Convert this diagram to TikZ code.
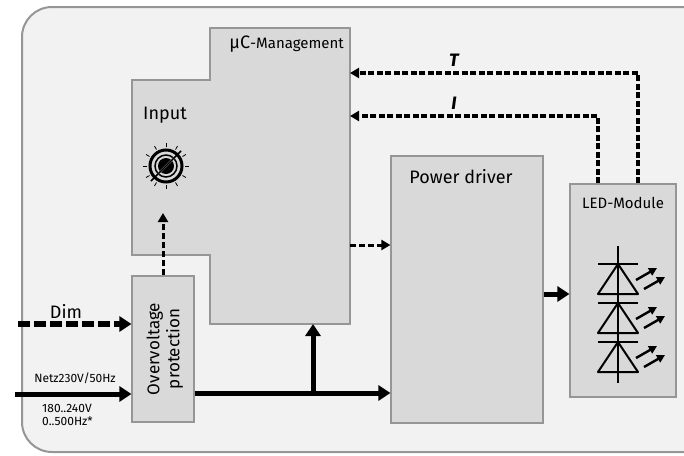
\documentclass[tikz,border=0pt]{standalone}
\usepackage{fontspec}
\setmainfont{Fira Sans}
\usetikzlibrary{arrows.meta}

\definecolor{bgcol}{RGB}{242,242,242}
\definecolor{boxcol}{RGB}{217,217,217}
\definecolor{edgecol}{RGB}{150,150,150}

\tikzset{
  block/.style={draw=edgecol,fill=boxcol,line width=1.2pt,inner sep=0pt},
  bigarrow/.style={line width=5pt,-{Triangle[length=12pt,width=15pt]}},
  dasharrow/.style={line width=5.5pt,dash pattern=on 12pt off 4pt,-{Triangle[length=12pt,width=15pt]}},
  fbarrow/.style={line width=3.2pt,dash pattern=on 6pt off 2.5pt,-{Triangle[length=9pt,width=10pt]}},
  smallarrow/.style={line width=3pt,dash pattern=on 6pt off 3pt,-{Triangle[length=9pt,width=10pt]}},
  lightarrow/.style={line width=2.4pt,-{Triangle[length=8pt,width=8pt]}}
}

\begin{document}
\begin{tikzpicture}[x=1pt,y=-1pt,font=\fontsize{18}{20}\selectfont]
\useasboundingbox (0,0) rectangle (684,455);

% outer frame
\begin{scope}
\clip (0,0) rectangle (684,455);
\draw[draw=edgecol,fill=bgcol,line width=2pt,rounded corners=30pt] (700,7) -- (22,7) -- (22,452) -- (700,452);
\end{scope}

% uC-Management
\draw[block] (210,28) -- (350,28) -- (350,324) -- (210,324) -- (210,255) -- (132,255) -- (132,80) -- (210,80) -- cycle;
\coordinate (uct) at (350,73);
\coordinate (uci) at (350,116);
\coordinate (ucr) at (350,245);
\coordinate (ucb) at (313,324);
\coordinate (ucin) at (163,213);
\node[anchor=east,inner sep=2pt] (uclabel) at (346,44) {µC\fontsize{15}{17}\selectfont-Management};
\node (input) at (165,115) {Input};

% dial
\begin{scope}[shift={(166,166)}]
\foreach \a in {0,30,...,330}
  \draw[line width=0.8pt] (\a:19) -- (\a:23);
\draw[line width=3pt] (0,0) circle (16);
\draw[line width=1.5pt] (0,0) circle (11);
\fill (0,0) circle (8);
\draw[white,line width=2pt] (-8,8) -- (8,-8);
\draw[line width=1.5pt] (-15,15) -- (15,-15);
\end{scope}

% overvoltage protection
\node[block,minimum width=62pt,minimum height=146pt] (ovp) at (163,349) {};
\node[rotate=90,align=center,text depth=0pt,font=\fontsize{17}{20}\selectfont] (ovplabel) at (ovp) {Overvoltage\\protection};

% power driver
\node[block,minimum width=152pt,minimum height=267pt] (pd) at (467,289.5) {};
\node (pdlabel) at (461,177) {Power driver};

% LED module
\node[block,minimum width=106pt,minimum height=213pt] (led) at (623,290.5) {};
\node[font=\fontsize{15}{17}\selectfont] (ledlabel) at (623,203) {LED-Module};

% diodes
\draw[line width=2pt] (618,246) -- (618,383);
\foreach \y in {264,303,342} {
  \draw[line width=2pt] (598,\y) -- (638,\y);
  \draw[line width=2pt,line join=round] (598,\y+30) -- (638,\y+30) -- (618,\y) -- cycle;
  \draw[lightarrow] (636,\y+16) -- (657,\y+4);
  \draw[lightarrow] (644,\y+25) -- (665,\y+13);
}

% inputs
\coordinate (dimin) at (18,324);
\coordinate (netin) at (15,394);
\draw[dasharrow] (dimin) -- (ovp.west |- dimin);
\node (dim) at (66,311) {Dim};
\draw[bigarrow] (netin) -- (ovp.west |- netin);
\node[font=\fontsize{12}{13}\selectfont] (net) at (75,378) {Netz230V/50Hz};
\node[font=\fontsize{12}{12}\selectfont,inner sep=0pt,anchor=west] (range1) at (42,408) {180..240V};
\node[font=\fontsize{12}{12}\selectfont,inner sep=0pt,anchor=west] (range2) at (42,421) {0..500Hz*};

% power
\coordinate (split) at (313,393);
\draw[line width=5pt] (ovp.east |- split) -- (split);
\draw[bigarrow] (split) -- (pd.west |- split);
\draw[bigarrow] (split) -- (ucb);

% control
\draw[smallarrow] (ovp.north) -- (ucin);
\draw[smallarrow] (ucr) -- (pd.west |- ucr);
\draw[bigarrow] (pd.east |- 0,294) -- (led.west |- 0,294);

% feedback
\coordinate (tcorner) at (638,73);
\coordinate (icorner) at (598,116);
\draw[fbarrow] (led.north -| tcorner) -- (tcorner) -- (uct);
\draw[fbarrow] (led.north -| icorner) -- (icorner) -- (uci);
\node[font=\fontsize{18}{20}\selectfont\bfseries\itshape] (tlabel) at (454,60) {T};
\node[font=\fontsize{18}{20}\selectfont\bfseries\itshape] (ilabel) at (454,103) {I};

\end{tikzpicture}
\end{document}
